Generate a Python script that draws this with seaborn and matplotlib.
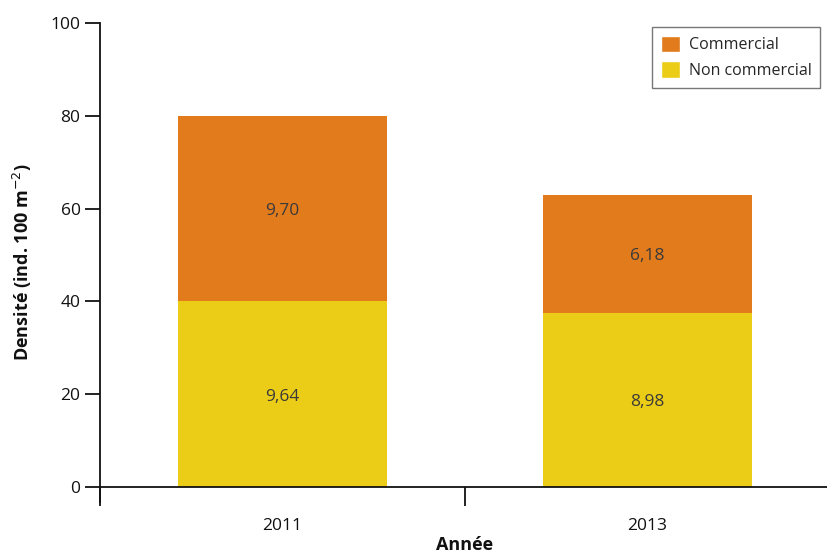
import matplotlib
matplotlib.use('Agg')
import matplotlib.pyplot as plt
from matplotlib.patches import Patch
import seaborn as sns
import pandas as pd

# ── Data ──────────────────────────────────────────────
annees = ['2011', '2013']
non_commercial = [40.0, 37.5]
commercial = [40.0, 25.5]
etiq_non_commercial = ['9,64', '8,98']
etiq_commercial = ['9,70', '6,18']

COL_COM = '#E27B1C'
COL_NONCOM = '#EBCD17'

sns.set_theme(style='white')
plt.rcParams['font.family'] = ['Open Sans', 'DejaVu Sans']

df = pd.DataFrame({
    'annee': annees,
    'non_commercial': non_commercial,
    'commercial': commercial,
})
df['total'] = df['non_commercial'] + df['commercial']

fig = plt.figure(figsize=(8.28, 5.54), dpi=100)
ax = fig.add_axes([100 / 828, 52 / 554, 730 / 828, 479 / 554])

# stacked bars: total first (orange), then bottom part (yellow) on top
sns.barplot(data=df, x='annee', y='total', color=COL_COM, width=0.575,
            saturation=1, linewidth=0, ax=ax, zorder=2)
sns.barplot(data=df, x='annee', y='non_commercial', color=COL_NONCOM, width=0.575,
            saturation=1, linewidth=0, ax=ax, zorder=3)

for i in range(len(annees)):
    ax.text(i, non_commercial[i] / 2 - 0.5, etiq_non_commercial[i], ha='center', va='center',
            fontsize=12.5, color='#3a3a3a', zorder=5)
    ax.text(i, non_commercial[i] + commercial[i] / 2 - 0.5, etiq_commercial[i], ha='center',
            va='center', fontsize=12.5, color='#3a3a3a', zorder=5)

ax.set_xlim(-0.5, 1.5)
ax.set_ylim(-3.2, 100)
ax.set_yticks([0, 20, 40, 60, 80, 100])

# spines
ax.spines['top'].set_visible(False)
ax.spines['right'].set_visible(False)
ax.spines['bottom'].set_position(('data', 0))
for s in ['left', 'bottom']:
    ax.spines[s].set_color('#111111')
    ax.spines[s].set_linewidth(1.3)
    ax.spines[s].set_zorder(6)

# x ticks at category boundaries, labels at category centres
ax.set_xticks([-0.5, 0.5, 1.5])
ax.set_xticklabels([])
ax.set_xticks([0, 1], minor=True)
ax.set_xticklabels(annees, minor=True)
ax.tick_params(axis='x', which='major', direction='out', length=14, width=1.3,
               color='#111111', bottom=True)
ax.tick_params(axis='x', which='minor', length=0, pad=22, labelsize=12.5,
               labelcolor='#111111')
ax.tick_params(axis='y', direction='out', length=11, width=1.3, color='#111111',
               left=True, labelsize=12.5, labelcolor='#111111', pad=3)

ax.set_xlabel('')
fig.text(465 / 828, 1 - 545 / 554, 'Année', ha='center', va='center', fontsize=13,
         fontweight='bold', color='#111111')
ax.set_ylabel('Densité (ind. 100 m$^{-2}$)', fontsize=13, fontweight='bold',
              color='#111111', labelpad=12)

handles = [Patch(facecolor=COL_COM, label='Commercial'),
           Patch(facecolor=COL_NONCOM, label='Non commercial')]
leg = ax.legend(handles=handles, loc='upper left', bbox_to_anchor=(552 / 730, 1.0 - 4 / 479),
                borderaxespad=0, frameon=True, fancybox=False, fontsize=11.5,
                handlelength=1.2, handleheight=1.2, handletextpad=0.55, borderpad=0.55,
                labelspacing=0.5)
leg.get_frame().set_edgecolor('#555555')
leg.get_frame().set_linewidth(1.0)

fig.savefig('out.png', dpi=100)
